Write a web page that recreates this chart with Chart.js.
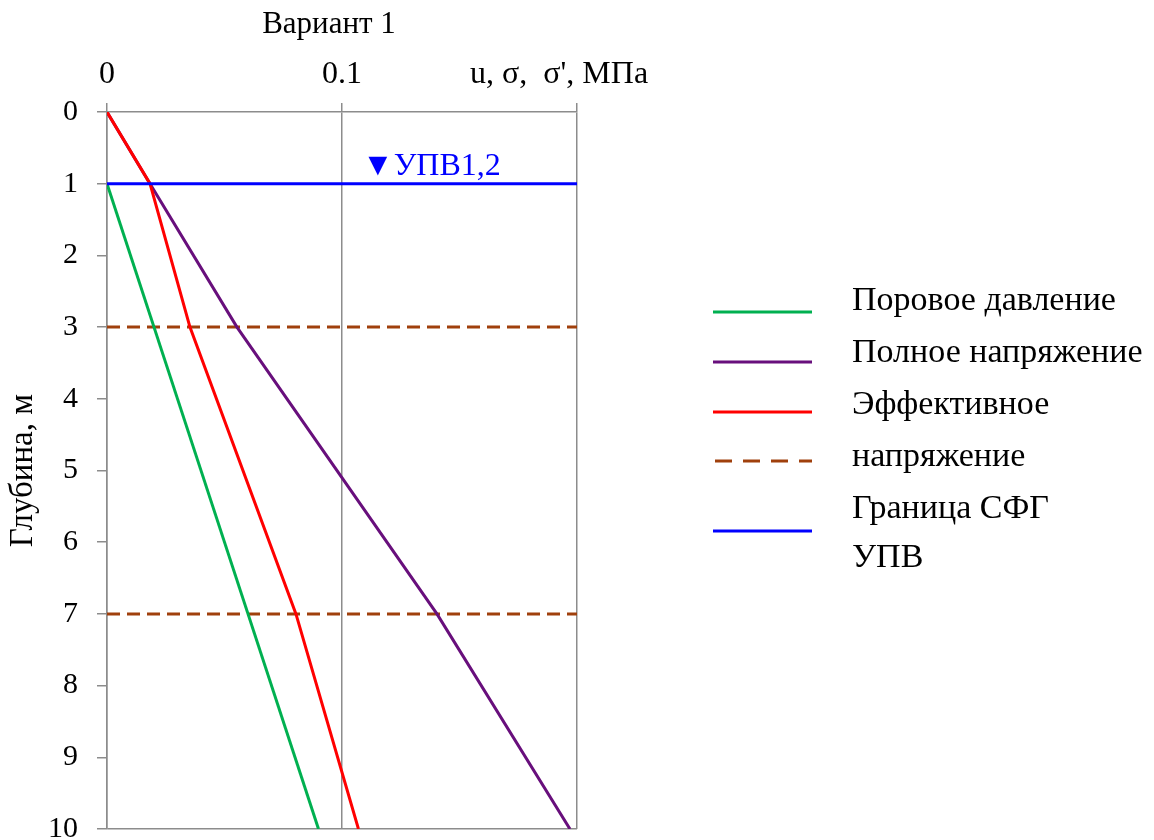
<!DOCTYPE html>
<html>
<head>
<meta charset="utf-8">
<script src="https://cdn.jsdelivr.net/npm/chart.js@4/dist/chart.umd.min.js"></script>
<style>
  html, body { margin: 0; padding: 0; background: #fff; }
  #wrap { width: 1154px; height: 840px; }
</style>
</head>
<body>
<div id="wrap"><canvas id="chart"></canvas></div>
<script>
// глубины, м
const depthPore = [1, 3, 7, 10];
const porePressure = [0, 0.02, 0.06, 0.09];

const depthStress = [0, 1, 3, 7, 10];
const totalStress = [0, 0.0183, 0.0553, 0.1404, 0.197];
const effStress = [0, 0.0183, 0.0353, 0.0804, 0.107];

const layerDepths = [3, 7];
const waterDepth = 1;
const xRange = [0, 0.2];

const legendLabels = ['Поровое давление', 'Полное напряжение', 'Эффективное', 'напряжение', 'Граница СФГ', 'УПВ'];

const FONT = '"Liberation Serif", "Times New Roman", serif';

function pts(ys, xs) { return ys.map((y, i) => ({ x: xs[i], y: y })); }

const datasets = [
  { label: 'Поровое давление', data: pts(depthPore, porePressure), borderColor: '#00b050', order: 3 },
  { label: 'Полное напряжение', data: pts(depthStress, totalStress), borderColor: '#680f7c', order: 4 },
  { label: 'Эффективное напряжение', data: pts(depthStress, effStress), borderColor: '#ff0000', order: 2 },
];
layerDepths.forEach((d, i) => {
  datasets.push({ label: i === 0 ? 'Граница СФГ' : '', data: xRange.map(x => ({ x: x, y: d })),
    borderColor: '#a0400c', borderDash: [13, 7], order: 5 });
});
datasets.push({ label: 'УПВ', data: xRange.map(x => ({ x: x, y: waterDepth })), borderColor: '#0000ff', order: 1 });
datasets.forEach(ds => { ds.showLine = true; ds.borderWidth = 3; ds.pointRadius = 0; ds.fill = false; });

const textPlugin = {
  id: 'texts',
  afterDraw(chart) {
    const ctx = chart.ctx;
    const ca = chart.chartArea;
    const xs = chart.scales.x, ys = chart.scales.y;
    ctx.save();
    ctx.fillStyle = '#000';
    ctx.textBaseline = 'middle';
    ctx.font = '31px ' + FONT;
    ctx.textAlign = 'center';
    ctx.fillText('Вариант 1', (ca.left + ca.right) / 2 - 13, 25);
    ctx.font = '32px ' + FONT;
    ctx.textAlign = 'left';
    ctx.fillText("u, σ,  σ', МПа", xs.getPixelForValue(0.1545), 75);
    // ось Y
    ctx.save();
    ctx.translate(23, (ca.top + ca.bottom) / 2);
    ctx.rotate(-Math.PI / 2);
    ctx.textAlign = 'center';
    ctx.font = '33px ' + FONT;
    ctx.fillText('Глубина, м', 0, 0);
    ctx.restore();
    // УПВ метка
    ctx.fillStyle = '#0000ff';
    ctx.textAlign = 'left';
    ctx.textBaseline = 'alphabetic';
    ctx.font = '32px ' + FONT;
    ctx.fillText('▼УПВ1,2', xs.getPixelForValue(0.1085), ys.getPixelForValue(0.88));
    // легенда
    const lx0 = 713, lx1 = 812, tx = 852;
    const lineY = [312, 362, 412, 461, 531];
    const lineDs = [0, 1, 2, 3, 5];
    lineY.forEach((y, i) => {
      const ds = chart.data.datasets[lineDs[i]];
      ctx.strokeStyle = ds.borderColor;
      ctx.lineWidth = 3;
      ctx.setLineDash(ds.borderDash ? [17, 11] : []);
      ctx.beginPath();
      ctx.moveTo(lx0 + (ds.borderDash ? 2 : 0), y);
      ctx.lineTo(lx1, y);
      ctx.stroke();
    });
    ctx.setLineDash([]);
    ctx.fillStyle = '#000';
    ctx.textBaseline = 'middle';
    ctx.font = '34px ' + FONT;
    const textY = [301, 353, 405, 457, 509, 558];
    legendLabels.forEach((t, i) => ctx.fillText(t, tx, textY[i]));
    ctx.restore();
  }
};

new Chart(document.getElementById('chart'), {
  type: 'scatter',
  data: { datasets: datasets },
  options: {
    responsive: true,
    maintainAspectRatio: false,
    animation: false,
    layout: { padding: { top: 0, left: 0, right: 577, bottom: 11 } },
    plugins: { legend: { display: false }, tooltip: { enabled: false } },
    scales: {
      x: {
        type: 'linear', position: 'top', min: 0, max: 0.2,
        afterFit: s => { s.height = 112; s.paddingLeft = 0; s.paddingRight = 0; },
        ticks: { stepSize: 0.1, padding: 9, color: '#000', font: { family: FONT, size: 32 },
          callback: v => v === 0 ? '0' : (Math.abs(v - 0.1) < 1e-9 ? '0.1' : '') },
        grid: { color: '#8c8c8c', lineWidth: 1.5, tickLength: 9 },
        border: { color: '#8c8c8c', width: 1.5 }
      },
      y: {
        type: 'linear', reverse: true, min: 0, max: 10,
        afterFit: s => { s.width = 107; s.paddingTop = 0; s.paddingBottom = 0; },
        ticks: { stepSize: 1, padding: 19, color: '#000', font: { family: FONT, size: 30 } },
        grid: { color: c => (c.tick && (c.tick.value === 10)) ? '#8c8c8c' : 'rgba(0,0,0,0)',
          tickColor: '#8c8c8c', lineWidth: 1.5, tickLength: 10 },
        border: { color: '#8c8c8c', width: 1.5 }
      }
    }
  },
  plugins: [textPlugin]
});
</script>
</body>
</html>
